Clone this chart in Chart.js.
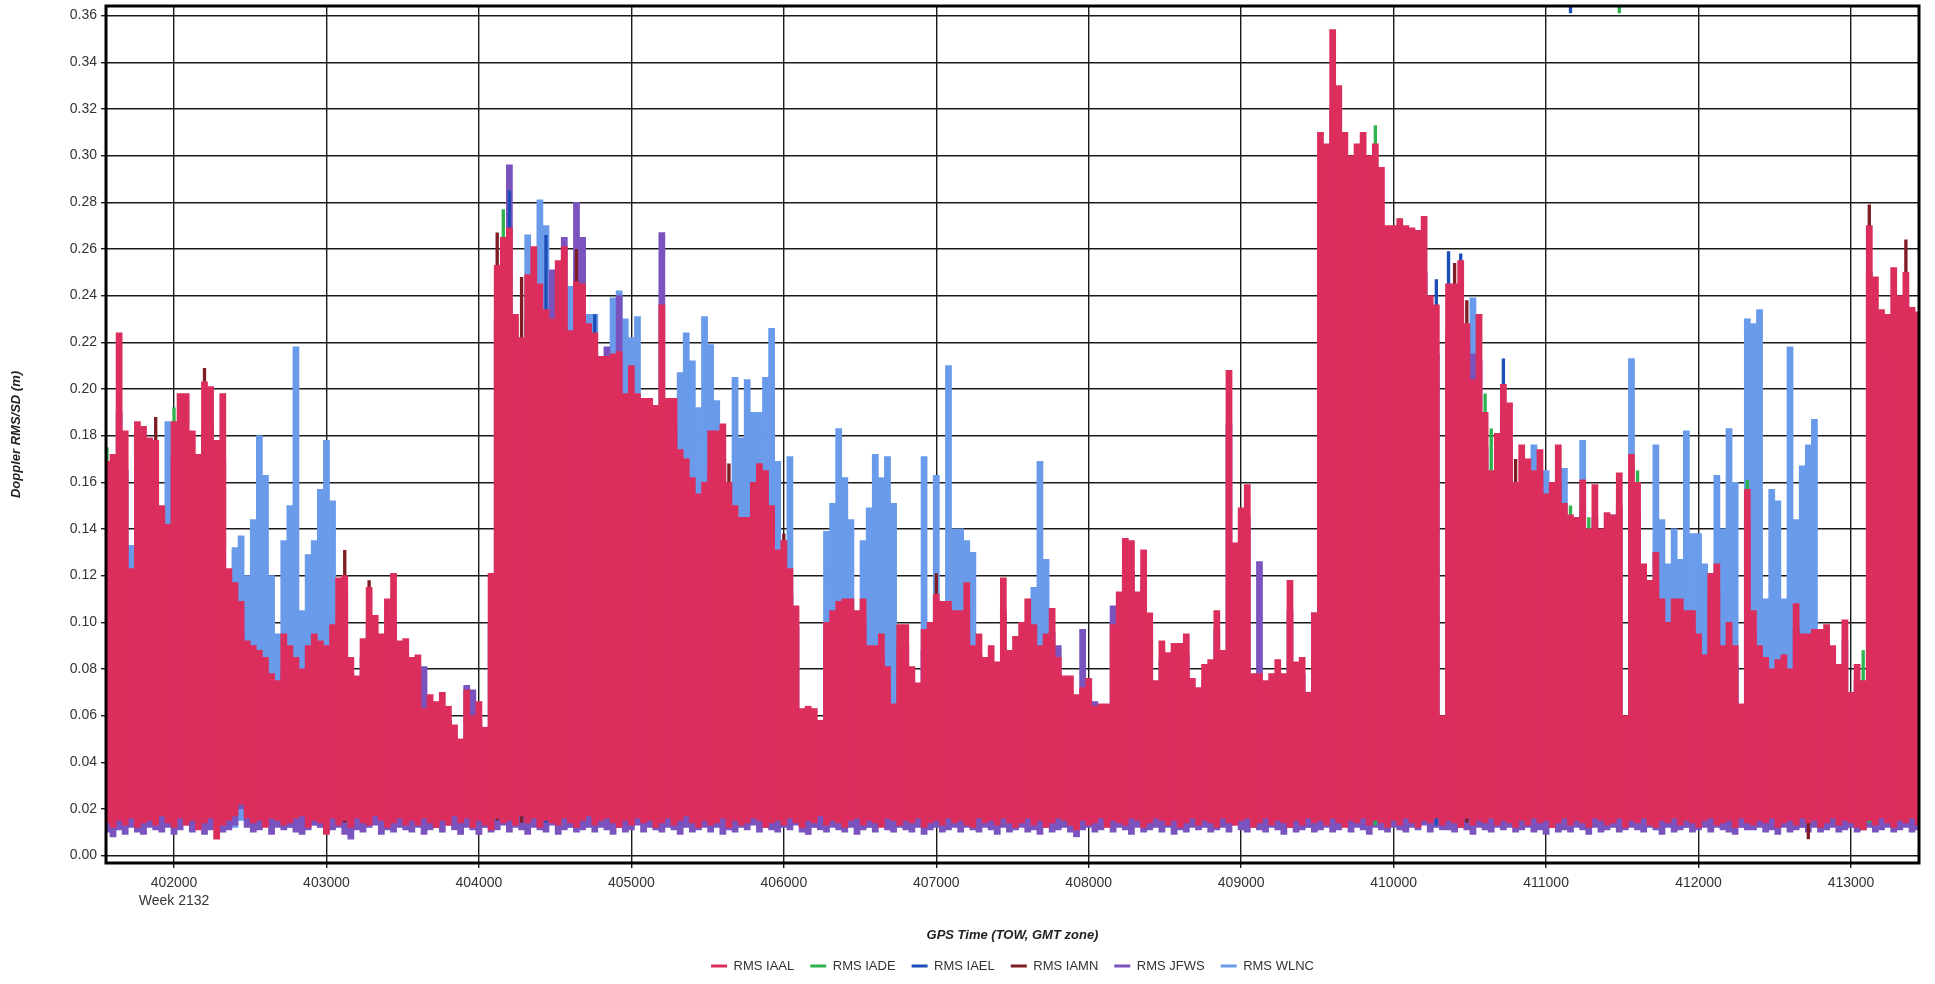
<!DOCTYPE html>
<html>
<head>
<meta charset="utf-8">
<title>Doppler RMS/SD</title>
<script src="https://cdn.jsdelivr.net/npm/chart.js@4.4.1/dist/chart.umd.min.js"></script>
<style>
  html, body { margin: 0; padding: 0; background: #ffffff; }
  #wrap { width: 1935px; height: 984px; }
</style>
</head>
<body>
<div id="wrap"><canvas id="chart" width="1935" height="984"></canvas></div>
<script>
// Doppler RMS/SD per station, GPS week 2132. Each bar spans the min..max of a
// 40 s window, values in millimetres (converted to metres for the axis).
const TOW_START = 401560;
const TOW_STEP = 40;
const TOW_MIN = 401554;
const TOW_MAX = 413446;
const xTicks = [402000, 403000, 404000, 405000, 406000, 407000, 408000, 409000, 410000, 411000, 412000, 413000];
const WEEK_TICK = 402000;
const WEEK_LABEL = 'Week 2132';

const iaalMaxMm = [
  169,172,224,182,123,186,184,179,178,150,
  142,186,198,198,182,172,203,201,178,198,
  123,117,109,92,90,88,85,78,75,95,
  90,85,80,90,95,92,90,99,119,120,
  85,77,93,115,103,95,110,121,92,93,
  85,86,63,69,66,70,64,56,50,71,
  60,66,55,121,253,265,269,232,222,249,
  261,245,234,230,255,261,225,246,245,228,
  224,214,214,215,216,198,210,198,196,196,
  193,236,196,196,174,170,162,155,160,182,
  182,185,160,150,145,145,160,168,165,150,
  131,135,123,107,63,64,63,58,100,105,
  109,110,110,105,110,90,90,95,81,65,
  99,99,81,74,97,100,112,109,109,105,
  105,117,90,95,85,90,83,119,88,94,
  100,110,99,90,95,106,85,77,77,69,
  72,76,64,65,65,99,113,136,135,113,
  131,104,75,92,87,91,91,95,76,72,
  82,84,105,88,208,134,149,159,78,78,
  75,78,84,78,118,83,85,70,104,310,
  305,354,330,310,300,305,310,300,305,295,
  270,270,273,270,269,268,274,240,236,60,
  245,245,255,228,204,232,190,165,181,202,
  194,160,176,170,165,174,155,160,176,151,
  146,145,161,140,159,140,147,146,164,60,
  172,160,125,118,130,110,100,110,110,105,
  105,95,86,121,125,90,100,90,65,157,
  105,90,85,80,84,86,80,108,95,95,
  97,97,99,90,82,101,70,82,75,270,
  248,234,232,252,240,250,235,233
];
const iaalMinMm = [
  14,12,15,13,16,12,14,15,13,17,
  14,12,16,13,15,11,14,16,7,13,
  15,17,22,16,14,15,12,16,15,13,
  14,16,17,12,15,14,9,16,13,15,
  12,16,14,13,17,15,12,14,16,13,
  15,13,16,14,12,15,13,17,14,16,
  12,15,13,11,16,14,15,13,17,14,
  16,12,15,14,13,16,14,12,15,17,
  13,15,16,14,12,15,13,16,14,15,
  12,14,16,13,15,17,14,12,15,13,
  14,16,12,15,13,14,16,15,12,14,
  15,13,16,14,12,15,14,17,13,15,
  14,12,15,16,13,15,14,12,16,15,
  13,15,14,16,12,14,15,13,16,14,
  15,13,12,16,14,15,13,16,14,12,
  14,16,13,15,12,14,16,15,13,11,
  15,13,14,16,12,15,14,13,16,15,
  12,14,16,15,13,15,12,14,16,13,
  15,14,12,16,14,13,15,16,12,14,
  16,13,15,14,12,15,13,16,14,15,
  13,16,14,12,15,14,16,13,15,14,
  12,15,13,16,14,12,15,14,16,13,
  15,14,12,16,13,15,14,16,13,15,
  14,12,15,13,16,14,15,12,14,16,
  13,15,14,12,16,15,13,14,16,12,
  15,14,16,13,12,15,14,16,13,15,
  14,12,15,16,13,14,15,12,16,14,
  13,15,14,16,12,14,15,13,16,14,
  15,12,14,16,13,15,14,12,11,15,
  13,16,14,12,15,14,16,13
];
const jfwsMaxMm = [
  150,160,190,165,110,170,165,160,150,130,
  125,170,180,175,160,150,180,185,160,170,
  110,100,95,85,80,80,78,70,68,80,
  80,78,72,80,85,82,80,88,100,110,
  78,70,85,100,95,85,95,100,85,82,
  78,75,81,62,60,62,58,52,46,73,
  71,58,50,100,230,245,296,220,210,230,
  240,230,220,251,240,265,210,280,265,215,
  210,200,218,205,240,185,195,185,180,182,
  180,267,180,182,160,158,150,145,148,165,
  165,170,150,140,135,135,148,155,150,140,
  120,122,112,98,58,58,57,52,92,95,
  100,100,100,95,100,82,82,86,74,60,
  90,90,74,68,88,92,100,100,100,95,
  95,105,82,86,78,82,76,105,80,85,
  90,100,90,82,86,96,90,70,70,62,
  97,70,66,60,60,107,102,122,122,102,
  118,94,68,84,80,82,82,86,70,66,
  75,76,97,80,185,120,135,145,72,126,
  68,70,76,70,105,76,78,64,104,280,
  280,320,300,285,275,280,285,275,280,270,
  250,250,252,250,248,245,250,220,215,55,
  225,235,235,220,215,212,175,150,165,185,
  178,150,160,156,150,160,142,146,160,138,
  133,132,148,128,145,128,134,133,150,55,
  158,146,114,108,118,100,92,100,100,96,
  96,86,78,110,114,82,92,82,60,143,
  96,82,78,72,76,78,72,98,86,86,
  88,88,90,82,74,92,64,75,68,250,
  228,214,212,230,220,240,214,212
];
const jfwsMinMm = [
  10,8,11,9,12,10,9,12,11,10,
  12,9,11,13,10,12,9,11,12,10,
  11,13,20,12,10,11,13,9,12,11,
  12,10,9,11,13,12,10,11,12,9,
  7,11,10,12,13,9,11,10,12,11,
  10,12,9,11,12,10,13,11,9,12,
  11,9,12,10,11,13,10,12,11,9,
  12,11,10,13,9,11,12,10,11,12,
  10,12,11,9,12,10,11,13,10,12,
  11,10,12,11,9,12,10,11,12,10,
  12,9,11,10,12,11,13,10,12,11,
  10,12,11,13,10,9,12,11,10,12,
  11,10,12,9,11,12,10,13,11,10,
  12,11,10,12,9,11,12,10,11,12,
  10,12,11,10,12,11,9,12,10,11,
  12,10,11,9,12,10,11,12,10,8,
  11,12,10,11,13,10,12,11,9,12,
  10,11,12,10,12,9,11,10,12,11,
  12,10,11,12,10,13,11,10,12,11,
  10,12,11,9,12,10,11,12,10,11,
  12,10,11,13,10,12,11,9,12,11,
  10,12,11,10,12,11,13,10,12,11,
  11,10,12,11,9,12,11,10,12,11,
  12,10,11,12,10,11,9,12,10,11,
  10,12,11,9,12,10,11,12,10,11,
  12,11,10,12,11,9,12,10,11,12,
  10,11,12,10,12,11,10,9,12,11,
  11,12,10,11,9,12,10,11,12,10,
  12,10,11,12,10,11,12,10,11,12,
  10,11,12,10,11,12,10,11
];

const wlncTow = [
  401720,401960,402400,402440,402480,402520,402560,402600,402640,402680,
  402720,402760,402800,402840,402880,402920,402960,403000,403040,
  404320,404400,404440,404600,404640,404720,404760,404880,404920,404960,405000,405040,
  405320,405360,405400,405440,405480,405520,405560,
  405680,405720,405760,405800,405840,405880,405920,405960,406040,
  406280,406320,406360,406400,406440,406520,406560,406600,406640,406680,406720,
  406920,407000,407080,407120,407160,407200,407240,
  407640,407680,407720,
  410520,
  410920,411000,411120,411240,411440,
  411560,411720,411760,411800,411840,411880,411920,411960,412000,412040,
  412120,412160,412200,412240,412320,412360,412400,412440,412480,412520,
  412560,412600,412640,412680,412720,412760
];
const wlncMaxMm = [
  133,186,132,137,120,144,180,163,120,95,
  135,150,218,105,129,135,157,178,152,
  266,281,270,244,250,232,232,239,242,230,222,231,
  207,224,212,192,231,219,195,
  205,179,204,190,190,205,226,169,171,
  139,151,183,162,144,135,149,172,162,171,151,
  171,163,210,140,140,135,130,
  115,169,127,
  239,
  176,165,166,178,146,
  213,176,144,125,140,127,182,138,138,125,
  163,140,183,160,230,228,234,110,157,152,
  110,218,144,167,176,187
];
const wlncMinMm = [
  13,14,12,15,13,14,12,16,13,14,
  15,12,13,14,16,13,12,14,15,
  14,13,15,12,14,13,15,14,12,13,15,14,
  13,15,12,14,13,15,14,
  12,14,13,15,14,12,13,15,14,
  13,14,12,15,13,14,12,15,13,14,15,
  12,14,13,15,12,14,13,
  14,12,15,
  13,
  14,12,15,13,14,
  13,15,12,14,13,15,12,14,13,15,
  14,12,13,15,14,12,13,15,14,12,
  13,15,14,12,13,14
];

const iadeTow = [401560,402000,404160,409880,410040,410600,410640,411160,411280,411480,411600,412320,413080,413120];
const iadeMaxMm = [175,192,277,313,273,198,183,150,145,380,165,161,88,260];
const iadeMinMm = [15,14,16,13,15,14,16,15,13,361,14,15,16,14];

const iaelTow = [404200,404440,404760,410280,410360,410440,410720,411160];
const iaelMaxMm = [285,266,232,247,259,258,213,380];
const iaelMinMm = [15,14,16,13,15,14,16,361];

const iamnTow = [401880,402200,403120,403280,404120,404280,404640,405640,406000,407000,410400,410480,410800,412720,413120,413360];
const iamnMaxMm = [188,209,131,118,267,248,260,168,138,121,254,238,170,60,279,264];
const iamnMinMm = [16,15,14,16,15,14,16,15,14,16,15,14,16,7,15,14];

// shared 40 s time grid for the fully sampled series
const gridTow = iaalMaxMm.map((_, i) => TOW_START + TOW_STEP * i);

function ranges(tows, minsMm, maxsMm) {
  return tows.map((x, k) => ({ x: x, y: [minsMm[k] / 1000, maxsMm[k] / 1000] }));
}

const series = [
  { label: 'RMS IAAL', color: '#DC2E5D', data: ranges(gridTow, iaalMinMm, iaalMaxMm), width: 1.0 },
  { label: 'RMS IADE', color: '#2DB34E', data: ranges(iadeTow, iadeMinMm, iadeMaxMm), width: 0.55 },
  { label: 'RMS IAEL', color: '#1D4DB6', data: ranges(iaelTow, iaelMinMm, iaelMaxMm), width: 0.55 },
  { label: 'RMS IAMN', color: '#7F1D24', data: ranges(iamnTow, iamnMinMm, iamnMaxMm), width: 0.55 },
  { label: 'RMS JFWS', color: '#7B53BE', data: ranges(gridTow, jfwsMinMm, jfwsMaxMm), width: 1.0 },
  { label: 'RMS WLNC', color: '#6A9BEA', data: ranges(wlncTow, wlncMinMm, wlncMaxMm), width: 1.0 }
];

// heavy black frame round the plotting area
const plotFrame = {
  id: 'plotFrame',
  afterDatasetsDraw(chart) {
    const { ctx, chartArea: a } = chart;
    ctx.save();
    ctx.strokeStyle = '#000000';
    ctx.lineWidth = 3;
    ctx.strokeRect(a.left, a.top, a.right - a.left, a.bottom - a.top);
    ctx.restore();
  }
};

const FONT = "'Liberation Sans', Arial, sans-serif";
const GRID = '#1b1b1b';

new Chart(document.getElementById('chart'), {
  type: 'bar',
  data: {
    datasets: series.map(s => ({
      label: s.label,
      data: s.data,
      backgroundColor: s.color,
      borderColor: s.color,
      borderWidth: 0,
      categoryPercentage: 1.0,
      barPercentage: s.width,
      grouped: false
    }))
  },
  options: {
    responsive: false,
    animation: false,
    devicePixelRatio: 1,
    events: [],
    layout: { padding: { left: 0, top: 6, right: 16, bottom: 10.5 } },
    plugins: {
      tooltip: { enabled: false },
      legend: {
        position: 'bottom',
        fullSize: false,
        maxHeight: 30,
        labels: {
          font: { family: FONT, size: 13 },
          color: '#333333',
          boxWidth: 16,
          boxHeight: 3,
          padding: 16
        }
      }
    },
    scales: {
      x: {
        type: 'linear',
        min: TOW_MIN,
        max: TOW_MAX,
        offset: false,
        afterBuildTicks(scale) { scale.ticks = xTicks.map(v => ({ value: v })); },
        afterFit(scale) { scale.height = 80.5; scale.paddingLeft = 0; scale.paddingRight = 0; },
        border: { display: false },
        grid: { color: GRID, lineWidth: 1.4, offset: false, tickLength: 5 },
        ticks: {
          autoSkip: false,
          maxRotation: 0,
          padding: 6,
          color: '#333333',
          font: { family: FONT, size: 14, lineHeight: 1.3 },
          callback: v => (v === WEEK_TICK ? [String(v), WEEK_LABEL] : String(v))
        },
        title: {
          display: true,
          text: 'GPS Time (TOW, GMT zone)',
          color: '#222222',
          font: { family: FONT, size: 13, weight: 'bold', style: 'italic' },
          padding: { top: 0, bottom: 0.5 }
        }
      },
      y: {
        type: 'linear',
        min: -0.0032,
        max: 0.3641,
        afterFit(scale) { scale.width = 106; scale.paddingTop = 0; scale.paddingBottom = 0; },
        border: { display: false },
        grid: { color: GRID, lineWidth: 1.4, tickLength: 5 },
        ticks: {
          stepSize: 0.02,
          includeBounds: false,
          maxTicksLimit: 100,
          padding: 4,
          color: '#333333',
          font: { family: FONT, size: 14 },
          callback: v => Number(v).toFixed(2)
        },
        title: {
          display: true,
          text: 'Doppler RMS/SD (m)',
          color: '#222222',
          font: { family: FONT, size: 13, weight: 'bold', style: 'italic' },
          padding: { top: 9, bottom: 0 }
        }
      }
    }
  },
  plugins: [plotFrame]
});
</script>
</body>
</html>
